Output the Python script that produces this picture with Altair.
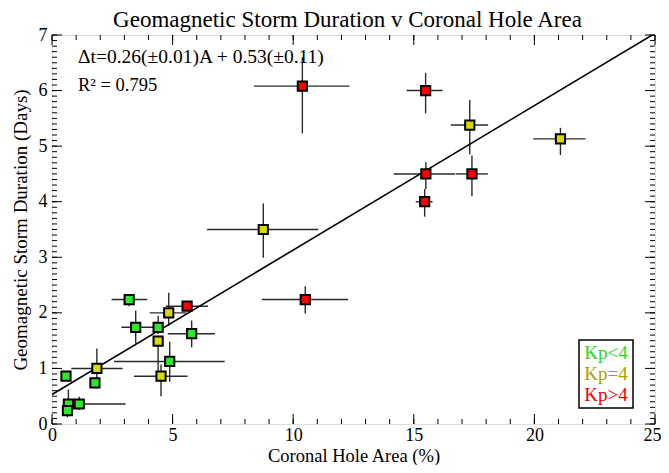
import altair as alt
import pandas as pd

# ---- data ----
area     = [0.58, 0.68, 1.13, 0.64, 1.78, 1.86, 3.20, 3.47, 4.40, 4.40, 4.84, 5.60,
            5.79, 4.88, 4.52, 8.76, 10.38, 10.50, 15.49, 17.32, 21.08, 15.50, 17.41, 15.45]
duration = [0.86, 0.36, 0.36, 0.24, 0.74, 1.00, 2.24, 1.74, 1.74, 1.49, 2.00, 2.12,
            1.625, 1.125, 0.86, 3.50, 6.08, 2.24, 6.00, 5.38, 5.13, 4.50, 4.50, 4.00]
area_lo  = [0.48, 0.55, 0.50, 0.52, 1.68, 0.80, 2.47, 2.88, 4.20, 4.22, 4.05, 4.72,
            4.80, 2.57, 3.40, 6.43, 8.37, 8.70, 14.70, 16.53, 19.95, 14.17, 16.75, 15.08]
area_hi  = [0.70, 0.82, 3.05, 0.78, 1.92, 2.93, 3.95, 4.36, 4.60, 4.60, 5.57, 6.47,
            6.75, 7.16, 5.62, 11.04, 12.33, 12.28, 16.19, 18.08, 22.12, 16.72, 18.07, 15.78]
dur_lo   = [0.78, 0.25, 0.25, 0.12, 0.64, 0.64, 2.12, 1.45, 1.62, 0.96, 1.77, 2.05,
            1.38, 0.76, 0.50, 2.99, 5.23, 1.99, 5.59, 4.85, 4.84, 4.23, 4.10, 3.73]
dur_hi   = [0.95, 0.62, 0.49, 0.37, 0.84, 1.36, 2.31, 2.04, 1.95, 1.59, 2.36, 2.20,
            1.86, 1.48, 1.07, 3.97, 6.60, 2.48, 6.32, 5.83, 5.33, 4.71, 4.83, 4.23]
kp       = ["Kp<4", "Kp<4", "Kp<4", "Kp<4", "Kp<4", "Kp=4", "Kp<4", "Kp<4", "Kp<4", "Kp=4",
            "Kp=4", "Kp>4", "Kp<4", "Kp<4", "Kp=4", "Kp=4", "Kp>4", "Kp>4", "Kp>4", "Kp=4",
            "Kp=4", "Kp>4", "Kp>4", "Kp>4"]

fit_x = [0, 25]
fit_y = [0.53, 7.03]

kp_levels = ["Kp<4", "Kp=4", "Kp>4"]
marker_colors = ["#2ee82e", "#dada00", "#ff0000"]
legend_colors = ["#22dd22", "#aaa000", "#ee0000"]

x_major = [0, 5, 10, 15, 20, 25]
x_minor = list(range(0, 26))
y_major = [0, 1, 2, 3, 4, 5, 6, 7]
y_minor = [i / 10 for i in range(0, 71)]

W, H = 603, 389
SERIF = "Liberation Serif"

df = pd.DataFrame(dict(area=area, duration=duration, alo=area_lo, ahi=area_hi,
                       dlo=dur_lo, dhi=dur_hi, kp=kp))

xs = alt.Scale(domain=[0, 25], nice=False, zero=False)
ys = alt.Scale(domain=[0, 7], nice=False, zero=False)

XA = alt.Axis(values=x_major, ticks=False, domain=False, grid=False, labelFlush=False,
              labelFont=SERIF, labelFontSize=18, labelPadding=2, labelColor="black",
              labelOffset={"condition": {"test": "datum.value == 25", "value": -3}, "value": 0},
              title="Coronal Hole Area (%)", titleFont=SERIF, titleFontSize=18.5,
              titleFontWeight="normal", titlePadding=2, titleColor="black")
YA = alt.Axis(values=y_major, ticks=False, domain=False, grid=False,
              labelFont=SERIF, labelFontSize=18, labelPadding=5, labelColor="black",
              title="Geomagnetic Storm Duration (Days)", titleFont=SERIF, titleFontSize=19,
              titleFontWeight="normal", titlePadding=8, titleColor="black")

def X(f):
    return alt.X(f, type="quantitative", scale=xs, axis=XA)

def Y(f):
    return alt.Y(f, type="quantitative", scale=ys, axis=YA)

base = alt.Chart(df)
ebar_color = "#2a2a2a"
xerr = base.mark_rule(color=ebar_color, strokeWidth=1.4).encode(x=X("alo"), x2="ahi", y=Y("duration"))
yerr = base.mark_rule(color=ebar_color, strokeWidth=1.4).encode(x=X("area"), y=Y("dlo"), y2="dhi")

fit = alt.Chart(pd.DataFrame(dict(fx=fit_x, fy=fit_y))).mark_line(
    color="black", strokeWidth=1.6, clip=True).encode(x=X("fx"), y=Y("fy"))

pts = base.mark_square(size=85, stroke="black", strokeWidth=2, opacity=1, fillOpacity=1).encode(
    x=X("area"), y=Y("duration"),
    fill=alt.Fill("kp:N", scale=alt.Scale(domain=kp_levels, range=marker_colors), legend=None))

# inward ticks on all four sides
def xticks(vals, length):
    d = alt.Chart(pd.DataFrame(dict(v=vals)))
    bot = d.mark_rule(color="black", strokeWidth=1).encode(x=X("v"), y=alt.value(H), y2=alt.value(H - length))
    top = d.mark_rule(color="black", strokeWidth=1).encode(x=X("v"), y=alt.value(0), y2=alt.value(length))
    return [bot, top]

def yticks(vals, length):
    d = alt.Chart(pd.DataFrame(dict(v=vals)))
    lef = d.mark_rule(color="black", strokeWidth=1).encode(y=Y("v"), x=alt.value(0), x2=alt.value(length))
    rig = d.mark_rule(color="black", strokeWidth=1).encode(y=Y("v"), x=alt.value(W), x2=alt.value(W - length))
    return [lef, rig]

ticks = xticks(x_minor, 5) + xticks(x_major, 10) + yticks(y_minor, 5) + yticks(y_major, 10)

one = alt.Chart(pd.DataFrame(dict(a=[0])))
eq_text = "\u0394t=0.26(\u00b10.01)A + 0.53(\u00b10.11)"
r2_text = "R\u00b2 = 0.795"
ann1 = one.mark_text(font=SERIF, fontSize=19.5, align="left", baseline="middle", color="black").encode(
    x=alt.value(26), y=alt.value(22), text=alt.value(eq_text))
ann2 = one.mark_text(font=SERIF, fontSize=18.5, align="left", baseline="middle", color="black").encode(
    x=alt.value(26), y=alt.value(50), text=alt.value(r2_text))

leg_box = one.mark_rect(fill="white", stroke="black", strokeWidth=1.5).encode(
    x=alt.value(527), x2=alt.value(581), y=alt.value(305), y2=alt.value(373))
leg_texts = []
for i, (lab, col) in enumerate(zip(kp_levels, legend_colors)):
    leg_texts.append(one.mark_text(font=SERIF, fontSize=19, align="center", baseline="middle", color=col).encode(
        x=alt.value(554), y=alt.value(318 + 21 * i), text=alt.value(lab)))

chart = alt.layer(*ticks, xerr, yerr, fit, pts, ann1, ann2, leg_box, *leg_texts).properties(
    width=W, height=H,
    title=alt.TitleParams("Geomagnetic Storm Duration v Coronal Hole Area", font=SERIF, fontSize=23,
                          fontWeight="normal", anchor="middle", frame="group", offset=-6, color="black", dx=-6),
    padding={"left": 44, "top": 27, "right": 6, "bottom": 41},
    autosize="none",
).configure_view(stroke="black", strokeWidth=1.5).configure(background="white")

chart.save("out.html", embed_options={"renderer": "svg", "actions": False})
